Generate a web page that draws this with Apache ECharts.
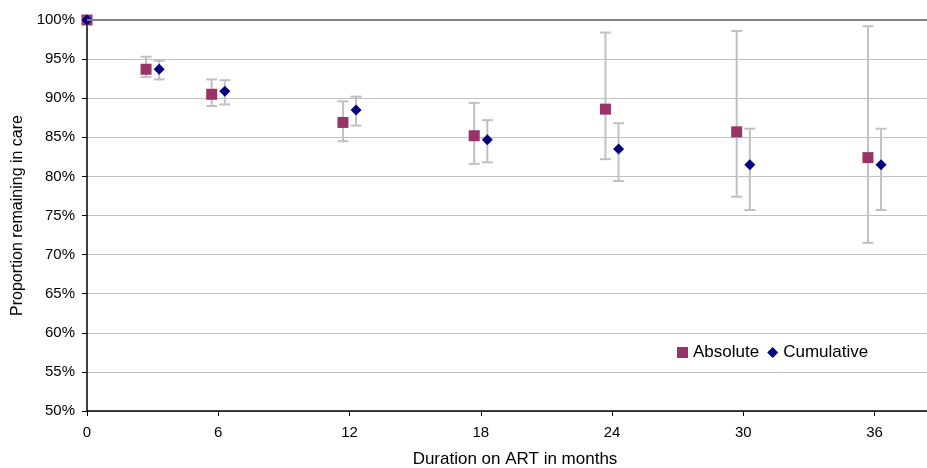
<!DOCTYPE html>
<html>
<head>
<meta charset="utf-8">
<script src="https://cdn.jsdelivr.net/npm/echarts@6/dist/echarts.min.js"></script>
<style>
  html, body { margin: 0; padding: 0; background: #fff; }
  #chart { width: 927px; height: 468px; }
</style>
</head>
<body>
<div id="chart"></div>
<script>
// months on ART, each series drawn slightly offset like the original
const absMonths = [0, 2.7, 5.7, 11.7, 17.7, 23.7, 29.7, 35.7];
const absValues = [100, 93.7, 90.5, 86.9, 85.2, 88.6, 85.7, 82.4];
const absLow    = [null, 92.7, 89.0, 84.5, 81.6, 82.2, 77.4, 71.5];
const absHigh   = [null, 95.3, 92.4, 89.6, 89.4, 98.4, 98.6, 99.2];

const cumMonths = [0, 3.3, 6.3, 12.3, 18.3, 24.3, 30.3, 36.3];
const cumValues = [100, 93.7, 90.9, 88.5, 84.7, 83.5, 81.5, 81.5];
const cumLow    = [null, 92.4, 89.2, 86.5, 81.8, 79.4, 75.7, 75.7];
const cumHigh   = [null, 94.8, 92.3, 90.2, 87.2, 86.8, 86.1, 86.1];

const fontFamily = 'Liberation Sans, Arial, sans-serif';

function pairs(xs, ys) {
  return xs.map((x, i) => [x, ys[i]]);
}
function bars(xs, lo, hi) {
  const out = [];
  xs.forEach((x, i) => {
    if (lo[i] != null) out.push([x, lo[i], hi[i]]);
  });
  return out;
}

// whisker with caps
function renderErrorBar(params, api) {
  const x = api.value(0);
  const lo = api.coord([x, api.value(1)]);
  const hi = api.coord([x, api.value(2)]);
  const cap = 5.5;
  const style = { stroke: '#c0c0c0', lineWidth: 2 };
  return {
    type: 'group',
    children: [
      { type: 'line', shape: { x1: lo[0], y1: lo[1], x2: hi[0], y2: hi[1] }, style },
      { type: 'line', shape: { x1: hi[0] - cap, y1: hi[1], x2: hi[0] + cap, y2: hi[1] }, style },
      { type: 'line', shape: { x1: lo[0] - cap, y1: lo[1], x2: lo[0] + cap, y2: lo[1] }, style }
    ]
  };
}

const chart = echarts.init(document.getElementById('chart'));
chart.setOption({
  animation: false,
  textStyle: { fontFamily },
  grid: { left: 87, top: 20, right: 0, bottom: 57, containLabel: false, outerBoundsMode: 'none' },
  legend: {
    left: 672, top: 339,
    itemWidth: 11, itemHeight: 11, itemGap: 8,
    textStyle: { fontSize: 17, color: '#000', fontFamily },
    data: [
      { name: 'Absolute', icon: 'rect' },
      { name: 'Cumulative', icon: 'diamond' }
    ]
  },
  xAxis: {
    type: 'value',
    min: 0, max: 38.4, interval: 6,
    name: 'Duration on ART in months',
    nameLocation: 'middle', nameGap: 40,
    nameTextStyle: { fontSize: 17, color: '#000', padding: [0, 0, 0, 16] },
    axisLine: { onZero: false, lineStyle: { color: '#000', width: 1.5 } },
    axisTick: { length: 5, lineStyle: { color: '#000' } },
    axisLabel: {
      fontSize: 15, color: '#000', margin: 14, showMaxLabel: false,
      formatter: v => (v % 6 === 0 ? String(v) : '')
    },
    splitLine: { show: false }
  },
  yAxis: {
    type: 'value',
    min: 50, max: 100, interval: 5,
    name: 'Proportion remaining in care',
    nameLocation: 'middle', nameGap: 54, nameRotate: 90,
    nameTextStyle: { fontSize: 16, color: '#000' },
    axisLine: { show: true, lineStyle: { color: '#000', width: 1.5 } },
    axisTick: { show: true, length: 5, lineStyle: { color: '#000' } },
    axisLabel: { fontSize: 15, color: '#000', margin: 12, formatter: '{value}%' },
    splitLine: { lineStyle: { color: '#c0c0c0', width: 1 } }
  },
  series: [
    {
      name: 'Absolute err', type: 'custom', z: 1, silent: true,
      renderItem: renderErrorBar, data: bars(absMonths, absLow, absHigh)
    },
    {
      name: 'Cumulative err', type: 'custom', z: 1, silent: true,
      renderItem: renderErrorBar, data: bars(cumMonths, cumLow, cumHigh)
    },
    {
      name: 'Absolute', type: 'scatter', z: 3,
      symbol: 'rect', symbolSize: 11,
      itemStyle: { color: '#993366', opacity: 1 },
      data: pairs(absMonths, absValues),
      markLine: {
        silent: true, symbol: 'none', label: { show: false },
        lineStyle: { color: '#808080', width: 2, type: 'solid' },
        data: [{ yAxis: 100 }]
      }
    },
    {
      name: 'Cumulative', type: 'scatter', z: 4,
      symbol: 'diamond', symbolSize: 11,
      itemStyle: { color: '#000080', opacity: 1 },
      data: pairs(cumMonths, cumValues)
    }
  ]
});
</script>
</body>
</html>
